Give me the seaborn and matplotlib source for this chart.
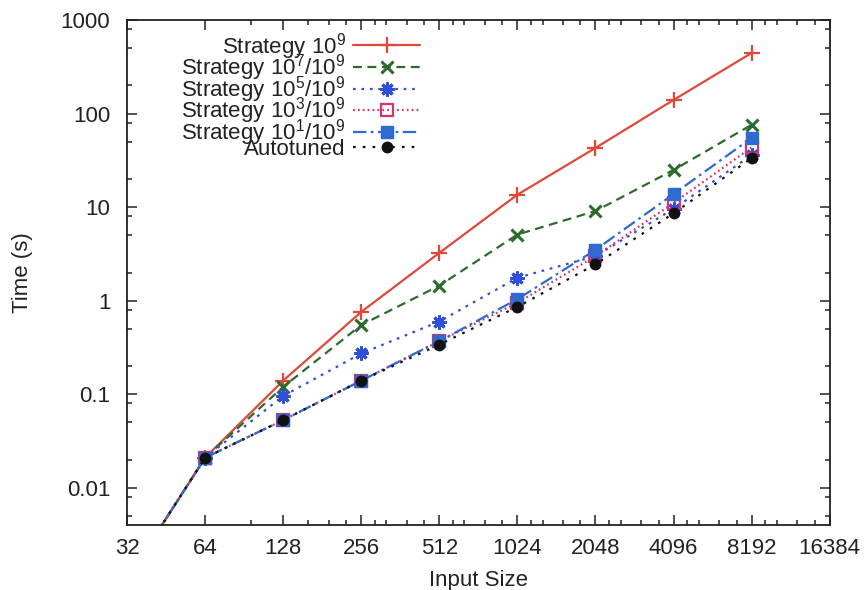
import numpy as np
import pandas as pd
import matplotlib
matplotlib.use("Agg")
import matplotlib.pyplot as plt
import matplotlib.ticker as mticker
import seaborn as sns

# Input sizes and measured run times (seconds)
sizes = [32, 64, 128, 256, 512, 1024, 2048, 4096, 8192]
t_1e9 = [0.00105, 0.021, 0.14, 0.76, 3.25, 13.6, 43.0, 140.0, 445.0]
t_1e7 = [0.00105, 0.021, 0.12, 0.55, 1.45, 5.1, 9.1, 25.0, 76.0]
t_1e5 = [0.00105, 0.021, 0.096, 0.273, 0.60, 1.76, 3.0, 9.6, 36.0]
t_1e3 = [0.00105, 0.021, 0.053, 0.14, 0.37, 0.95, 3.0, 11.1, 43.5]
t_1e1 = [0.00105, 0.021, 0.053, 0.14, 0.37, 1.04, 3.5, 13.8, 55.0]
t_auto = [0.00105, 0.021, 0.053, 0.14, 0.34, 0.86, 2.45, 8.6, 33.5]

labels = [r"Strategy $10^9$", r"Strategy $10^7/10^9$", r"Strategy $10^5/10^9$",
          r"Strategy $10^3/10^9$", r"Strategy $10^1/10^9$", "Autotuned"]
x_ticks = [32, 64, 128, 256, 512, 1024, 2048, 4096, 8192, 16384]
y_ticks = [0.01, 0.1, 1, 10, 100, 1000]
y_tick_labels = ["0.01", "0.1", "1", "10", "100", "1000"]

sns.set_theme(style="ticks")
plt.rcParams["font.family"] = ["Liberation Sans", "DejaVu Sans"]
plt.rcParams["mathtext.default"] = "regular"

FS = 16
fig = plt.figure(figsize=(8.67, 5.90), dpi=100)
ax = fig.add_axes([0.1465, 0.110, 0.8105, 0.856])

styles = [
    dict(color="#e0483a", linestyle="-", marker="+", markersize=11, markeredgewidth=1.6),
    dict(color="#2d6b2d", linestyle=(0, (4, 2.5)), marker="x", markersize=9, markeredgewidth=2.2),
    dict(color="#2f4fd6", linestyle=(0, (1.2, 2.6)), marker=(8, 2, 0), markersize=10, markeredgewidth=2.2),
    dict(color="#d8336a", linestyle=(0, (0.8, 1.4)), marker="s", markersize=8, markeredgewidth=1.6,
         markerfacecolor="none"),
    dict(color="#2f6ad0", linestyle=(0, (6, 2, 1.2, 2)), marker="s", markersize=8, markeredgewidth=1),
    dict(color="#111111", linestyle=(0, (1.2, 3.2)), marker="o", markersize=7.5, markeredgewidth=1),
]
series = [t_1e9, t_1e7, t_1e5, t_1e3, t_1e1, t_auto]

for vals, lab, st in zip(series, labels, styles):
    df = pd.DataFrame({"size": sizes, "time": vals})
    sns.lineplot(data=df, x="size", y="time", ax=ax, label=lab, linewidth=1.6,
                 markeredgecolor=st["color"], **st)

ax.set_xscale("log", base=2)
ax.set_yscale("log")
ax.set_xlim(32, 16384)
ax.set_ylim(0.004, 1000)

ax.set_xticks(x_ticks)
ax.set_xticklabels([str(v) for v in x_ticks])
minor_x = []
for b in [64, 128, 256, 512, 1024, 2048, 4096, 8192]:
    if b == 64:
        fr = [1.5]
    elif b == 128:
        fr = [1.25, 1.5, 1.75]
    else:
        fr = [1.125, 1.25, 1.5, 1.75]
    minor_x += [b * f for f in fr]
ax.xaxis.set_minor_locator(mticker.FixedLocator(minor_x))
ax.xaxis.set_minor_formatter(mticker.NullFormatter())

ax.set_yticks(y_ticks)
ax.set_yticklabels(y_tick_labels)
ax.yaxis.set_minor_locator(mticker.LogLocator(base=10, subs=[2, 5, 8], numticks=20))
ax.yaxis.set_minor_formatter(mticker.NullFormatter())

ax.tick_params(which="both", direction="in", top=True, right=True, colors="#222222",
               labelsize=FS, labelcolor="#222222")
ax.tick_params(axis="x", which="both", pad=9)
ax.tick_params(axis="y", which="both", pad=12)
ax.tick_params(which="major", length=7, width=1.1)
ax.tick_params(which="minor", length=3.5, width=1.1)
for sp in ax.spines.values():
    sp.set_linewidth(1.3)
    sp.set_color("#222222")

ax.set_xlabel("Input Size", fontsize=FS, color="#222222", labelpad=8)
ax.set_ylabel("Time (s)", fontsize=FS, color="#222222", labelpad=20)

# gnuplot-style key: right-aligned labels followed by line samples
leg = ax.legend(loc="upper left", bbox_to_anchor=(0.058, 1.005), frameon=False,
                markerfirst=False, fontsize=FS, handlelength=3.0, handletextpad=0.35,
                labelspacing=-0.42, borderaxespad=0.2)
for t in leg.get_texts():
    t.set_color("#222222")

fig.savefig("out.png", dpi=100)
